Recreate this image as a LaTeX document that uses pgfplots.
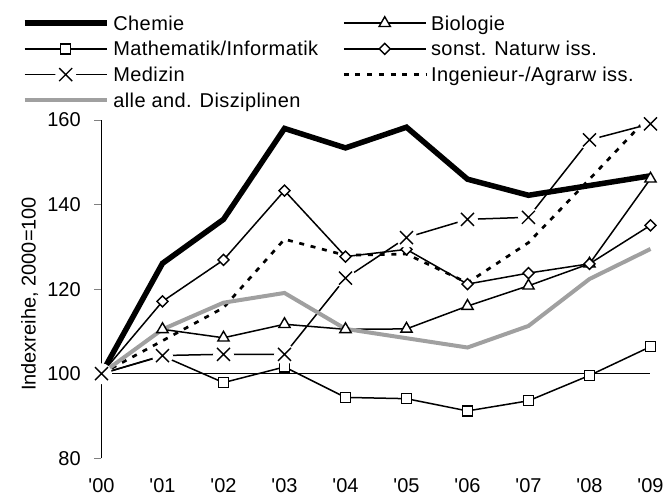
\documentclass[border=0pt]{standalone}
\usepackage{fontspec}
\setmainfont{Liberation Sans}
\newfontfamily\legfont{Liberation Sans}[LetterSpace=2]
\usepackage{pgfplots}
\pgfplotsset{compat=1.18}
\definecolor{grayline}{RGB}{160,160,160}
\pgfdeclareplotmark{xgap}{%
  \pgfpathcircle{\pgfpointorigin}{1.6\pgfplotmarksize}%
  \pgfsetfillcolor{white}\pgfusepathqfill
  \pgfpathmoveto{\pgfqpoint{-\pgfplotmarksize}{-\pgfplotmarksize}}%
  \pgfpathlineto{\pgfqpoint{\pgfplotmarksize}{\pgfplotmarksize}}%
  \pgfpathmoveto{\pgfqpoint{-\pgfplotmarksize}{\pgfplotmarksize}}%
  \pgfpathlineto{\pgfqpoint{\pgfplotmarksize}{-\pgfplotmarksize}}%
  \pgfusepathqstroke}
\pgfdeclareplotmark{diam}{%
  \pgfpathmoveto{\pgfqpoint{0pt}{\pgfplotmarksize}}%
  \pgfpathlineto{\pgfqpoint{\pgfplotmarksize}{0pt}}%
  \pgfpathlineto{\pgfqpoint{0pt}{-\pgfplotmarksize}}%
  \pgfpathlineto{\pgfqpoint{-\pgfplotmarksize}{0pt}}%
  \pgfpathclose\pgfusepathqfillstroke}
\begin{document}
\fontsize{20}{24}\selectfont
\begin{tikzpicture}
\path[use as bounding box] (0,0) rectangle (667pt,-497pt);
\begin{axis}[
  at={(101.5pt,-458.3pt)}, anchor=south west,
  scale only axis, width=549pt, height=338.3pt,
  xmin=0, xmax=9, ymin=80, ymax=160,
  clip=false,
  axis x line*=bottom, axis y line*=left,
  x axis line style={draw=none},
  y axis line style={line width=1pt},
  xtick={0,...,9},
  xticklabels={\textquotesingle 00,\textquotesingle 01,\textquotesingle 02,\textquotesingle 03,\textquotesingle 04,\textquotesingle 05,\textquotesingle 06,\textquotesingle 07,\textquotesingle 08,\textquotesingle 09},
  xtick style={draw=none},
  ytick={80,100,...,160},
  ytick style={line width=1pt},
  tick align=outside,
  major tick length=7pt,
  /pgf/number format/assume math mode=true,
  yticklabel style={xshift=-7pt},
  xticklabel style={yshift=-6pt},
  tick label style={font=\fontsize{20}{24}\selectfont},
  ylabel={Indexreihe, 2000=100},
  every axis y label/.style={at={(axis description cs:-0.131,0.486)}, rotate=90, anchor=center, font=\fontsize{20}{24}\selectfont},
  legend columns=2,
  legend cell align=left,
  legend style={draw=none, fill=none, inner sep=0pt,
    at={(axis description cs:-0.14536,1.3222)}, anchor=north west,
    row sep=1.7pt,
    nodes={inner sep=2pt, text height=17pt, text depth=3pt},
    font=\fontsize{20}{24}\legfont},
  legend image code/.code={\draw[mark repeat=2,mark phase=2,#1] plot coordinates {(0pt,0pt) (41pt,0pt) (82pt,0pt)}; \path (84pt,0pt);},
]
\addplot[black, line width=1pt, forget plot] coordinates {(0,100) (9,100)};

\addplot[black, line width=5.5pt] coordinates {
(0,100) (1,126.1) (2,136.5) (3,158) (4,153.4) (5,158.3) (6,146) (7,142.2) (8,144.5) (9,146.8)};
\addlegendentry{\makebox[227pt][l]{Chemie}}

\addplot[black, line width=1.5pt, mark=triangle*, mark size=6.5pt, mark options={fill=white, line width=1.4pt}] coordinates {
(0,100) (1,110.5) (2,108.5) (3,111.7) (4,110.5) (5,110.6) (6,116) (7,120.8) (8,126) (9,146.1)};
\addlegendentry{Biologie}

\addplot[black, line width=1.5pt, mark=square*, mark size=5pt, mark options={fill=white, line width=1.4pt}] coordinates {
(0,100) (1,104.2) (2,97.9) (3,101.6) (4,94.4) (5,94.1) (6,91.2) (7,93.6) (8,99.6) (9,106.4)};
\addlegendentry{\makebox[227pt][l]{Mathematik/Informatik}}

\addplot[black, line width=1.5pt, mark=diam, mark size=5.5pt, mark options={fill=white, line width=1.4pt}] coordinates {
(0,100) (1,117.1) (2,126.9) (3,143.3) (4,127.7) (5,129.4) (6,121.2) (7,123.8) (8,126) (9,135.1)};
\addlegendentry{sonst. Naturw iss.}

\addplot[black, line width=1.5pt, mark=xgap, mark size=6.5pt, mark options={line width=1.4pt}] coordinates {
(0,100) (1,104.3) (2,104.6) (3,104.6) (4,122.6) (5,132.2) (6,136.5) (7,137) (8,155.3) (9,159.1)};
\addlegendentry{\makebox[227pt][l]{Medizin}}

\addplot[black, line width=2.7pt, dash pattern=on 5pt off 6.7pt] coordinates {
(0,100) (1,107.8) (2,115.6) (3,131.8) (4,128) (5,128.3) (6,121.5) (7,131) (8,146) (9,161.2)};
\addlegendentry{Ingenieur-/Agrarw iss.}

\addplot[grayline, line width=4pt] coordinates {
(0,100) (1,110.5) (2,116.8) (3,119.1) (4,110.6) (5,108.4) (6,106.2) (7,111.3) (8,122.4) (9,129.5)};
\addlegendentry{\makebox[227pt][l]{alle and. Disziplinen}}
\end{axis}
\end{tikzpicture}
\end{document}
